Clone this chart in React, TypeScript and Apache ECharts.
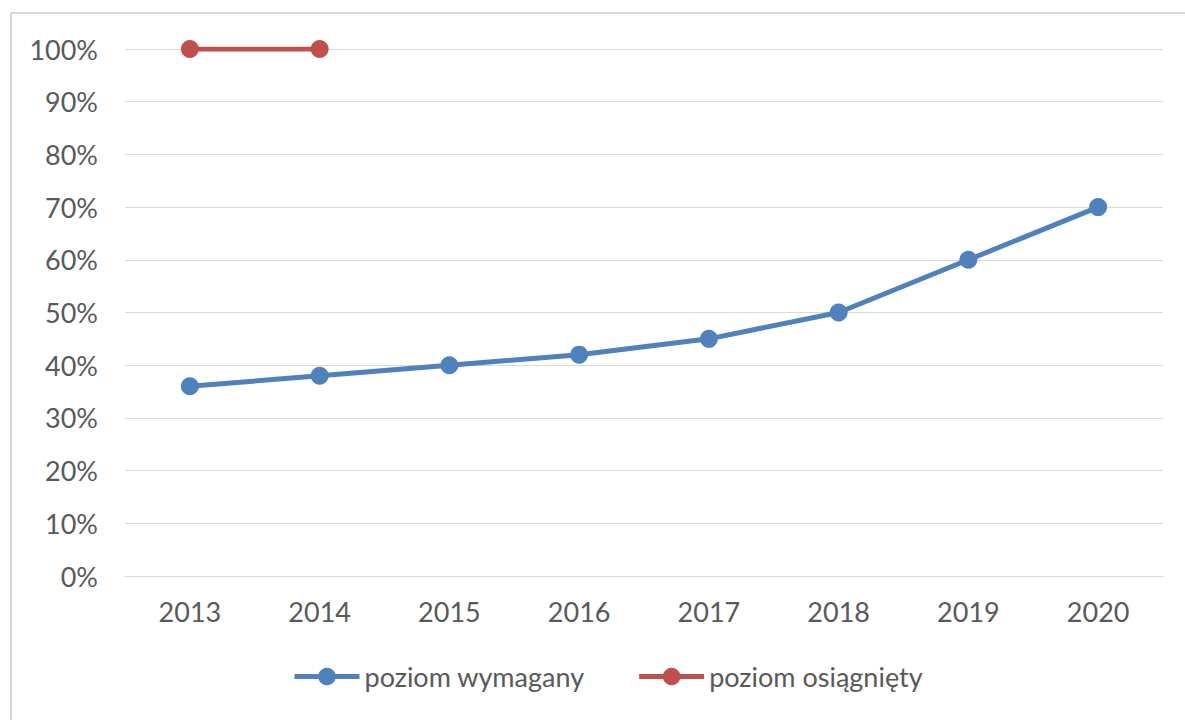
import React, { useEffect, useRef } from "react";
import * as echarts from "echarts";

const years = ["2013", "2014", "2015", "2016", "2017", "2018", "2019", "2020"];
const required = [36, 38, 40, 42, 45, 50, 60, 70];
const achieved: (number | null)[] = [100, 100, null, null, null, null, null, null];
const seriesNames = ["poziom wymagany", "poziom osiągnięty"];

const FONT = "Lato";
const TXT = "#595959";
const BLUE = "#4f81bd";
const RED = "#c0504d";

export default function App() {
  const ref = useRef<HTMLDivElement>(null);
  useEffect(() => {
    const chart = echarts.init(ref.current!, undefined, { renderer: "svg" });
    chart.setOption({
      animation: false,
      backgroundColor: "#ffffff",
      textStyle: { fontFamily: FONT },
      graphic: [
        {
          type: "rect",
          shape: { x: 11, y: 13, width: 1200, height: 740 },
          style: { fill: "none", stroke: "#d9d9d9", lineWidth: 2 },
          silent: true,
        },
      ],
      grid: { left: 125, right: 22, top: 49, bottom: 144, containLabel: false },
      xAxis: {
        type: "category",
        data: years,
        boundaryGap: true,
        axisLine: { show: true, lineStyle: { color: "#d9d9d9", width: 1 } },
        axisTick: { show: false },
        axisLabel: { color: TXT, fontSize: 27, fontFamily: FONT, margin: 22 },
      },
      yAxis: {
        type: "value",
        min: 0,
        max: 100,
        interval: 10,
        axisLine: { show: false },
        axisTick: { show: false },
        axisLabel: { color: TXT, fontSize: 27, fontFamily: FONT, margin: 27, formatter: "{value}%" },
        splitLine: { lineStyle: { color: "#d9d9d9", width: 1 } },
      },
      legend: {
        top: 658,
        left: 287,
        padding: 5,
        itemWidth: 65,
        itemHeight: 22,
        itemGap: 52,
        textStyle: { color: TXT, fontSize: 27, fontFamily: FONT },
        lineStyle: { width: 5 },
        data: seriesNames,
      },
      series: [
        {
          name: seriesNames[0],
          type: "line",
          data: required,
          symbol: "circle",
          symbolSize: 18,
          lineStyle: { width: 5, color: BLUE },
          itemStyle: { color: BLUE },
        },
        {
          name: seriesNames[1],
          type: "line",
          data: achieved,
          symbol: "circle",
          symbolSize: 18,
          lineStyle: { width: 5, color: RED },
          itemStyle: { color: RED },
        },
      ],
    });
    return () => chart.dispose();
  }, []);
  return (
    <div
      ref={ref}
      style={{ position: "fixed", left: 0, top: 0, width: 1185, height: 720 }}
    />
  );
}
